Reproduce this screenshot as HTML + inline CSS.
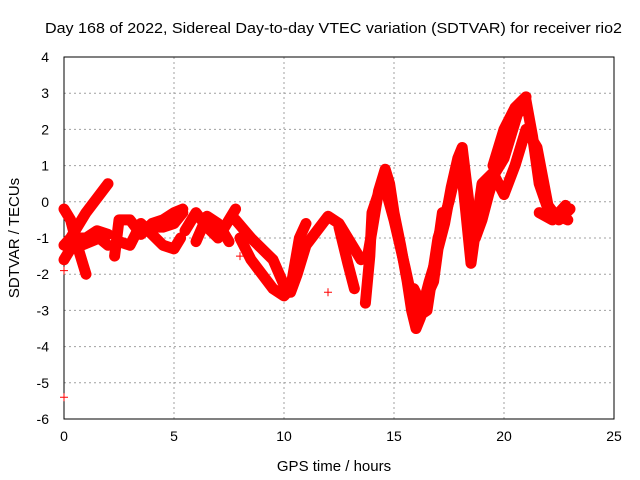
<!DOCTYPE html>
<html><head><meta charset="utf-8"><style>
html,body{margin:0;padding:0;background:#fff;}
svg{display:block;font-family:"Liberation Sans",sans-serif;}
</style></head><body>
<svg id="chart" width="640" height="480"></svg>
<script>
const tracks = [
  [[0,-1.2],[0.3,-1.0],[0.6,-0.7],[1,-0.3],[1.5,0.1],[2,0.5]],
  [[0,-0.2],[0.3,-0.5],[0.6,-1.2],[0.9,-1.8],[1.0,-2.0]],
  [[0,-1.6],[0.3,-1.3],[0.6,-1.0],[1,-1.0],[1.5,-0.8],[2,-0.9]],
  [[0.4,-1.1],[0.8,-1.2],[1.2,-1.1],[1.6,-1.0],[2,-1.2]],
  [[2.3,-1.5],[2.5,-0.5],[3,-0.5],[3.5,-0.9],[4,-0.6],[4.5,-0.5],[5,-0.3],[5.4,-0.2]],
  [[2.5,-1.1],[3,-1.2],[3.5,-0.6],[4,-0.9],[4.5,-1.2],[5,-1.3],[5.3,-1.0]],
  [[4,-0.7],[4.5,-0.7],[5,-0.6],[5.4,-0.3]],
  [[5.5,-0.8],[6,-0.3],[6.5,-0.7],[7,-1.0],[7.5,-0.5],[7.8,-0.2]],
  [[6,-1.1],[6.5,-0.4],[7,-0.6],[7.5,-1.1]],
  [[7.8,-0.5],[8.5,-1.0],[9,-1.3],[9.5,-1.6],[10,-2.3],[10.3,-2.5],[10.6,-2.0],[11,-1.2],[11.5,-0.8],[12,-0.4],[12.5,-0.6],[13,-1.1],[13.5,-1.6],[13.8,-1.5],[14,-0.8],[14.3,0.3],[14.6,0.9],[14.8,0.5],[15,-0.3],[15.3,-1.2],[15.6,-2.2],[15.8,-3.0],[16,-3.5],[16.2,-3.2],[16.5,-2.6],[16.8,-2.2],[17,-1.3],[17.3,-0.6],[17.6,0.4],[17.9,1.2],[18.1,1.5],[18.3,0.5],[18.5,-0.5],[18.7,-1.0],[19,-0.5],[19.3,0.2],[19.6,0.8],[20,1.2],[20.3,1.8],[20.6,2.4],[21,2.8],[21.3,1.8],[21.6,0.5],[22,-0.2],[22.5,-0.4],[22.9,-0.5]],
  [[8,-1.0],[8.5,-1.6],[9,-2.0],[9.5,-2.4],[10,-2.6],[10.3,-2.4],[10.7,-1.0],[11,-0.6]],
  [[12.5,-0.7],[12.9,-1.7],[13.2,-2.4]],
  [[13.7,-2.8],[13.9,-1.5],[14,-0.3],[14.5,0.6],[15,-0.5],[15.5,-1.8],[16,-3.2],[16.5,-3.0],[17,-1.0],[17.5,0.0],[18,1.3],[18.5,-1.7],[19,0.5],[19.5,0.8],[20,0.2],[20.5,1.0],[21,2.0],[21.5,1.5],[22,-0.1],[22.5,-0.5],[23,-0.2]],
  [[15.9,-2.4],[16.3,-2.9],[16.6,-2.2],[16.9,-1.6],[17.2,-0.3]],
  [[19.5,1.0],[20,2.0],[20.5,2.6],[21,2.9]],
  [[21.6,-0.3],[22.2,-0.5],[22.8,-0.1]]
];
const singles = [[0,-5.4],[12,-2.5],[0,-1.9],[8,-1.5]];
const xTicks = [0,5,10,15,20,25];
const yTicks = [4,3,2,1,0,-1,-2,-3,-4,-5,-6];

const NS="http://www.w3.org/2000/svg";
const svg=document.getElementById('chart');
const L=64,R=614,T=57,B=419;
const xs=v=>L+(v-0)/25*(R-L);
const ys=v=>T+(4-v)/10*(B-T);
function mk(t,a,p){const e=document.createElementNS(NS,t);for(const k in a)e.setAttribute(k,a[k]);(p||svg).appendChild(e);return e;}

xTicks.forEach(v=>{
  const g=mk('line',{x1:xs(v),x2:xs(v),y1:T,y2:B,stroke:'#a0a0a0','stroke-dasharray':'2,3'});
  
  
  const t=mk('text',{x:xs(v),y:B+22,'text-anchor':'middle','font-size':14});
  t.textContent=v;
  
  
});
yTicks.forEach(v=>{
  const g=mk('line',{x1:L,x2:R,y1:ys(v),y2:ys(v),stroke:'#a0a0a0','stroke-dasharray':'2,3'});
  
  
  const t=mk('text',{x:L-15,y:ys(v)+5,'text-anchor':'end','font-size':14});
  t.textContent=v;
  
  
});
const fr=mk('rect',{x:L,y:T,width:R-L,height:B-T,fill:'none',stroke:'#000'});



tracks.forEach(tr=>{
  const pl=mk('polyline',{points:tr.map(p=>xs(p[0])+','+ys(p[1])).join(' '),fill:'none',stroke:'#ff0000','stroke-width':11,'stroke-linejoin':'round','stroke-linecap':'round'});
  
  
});
singles.forEach(p=>{
  const x=xs(p[0]),y=ys(p[1]);
  const m=mk('path',{d:`M${x-4},${y}H${x+4}M${x},${y-4}V${y+4}`,stroke:'#ff0000','stroke-width':1});
  
  
});

const tt=mk('text',{x:45,y:33,'font-size':15,textLength:577,lengthAdjust:'spacingAndGlyphs'});
tt.textContent='Day 168 of 2022, Sidereal Day-to-day VTEC variation (SDTVAR) for receiver rio2';


const xl=mk('text',{x:334,y:471,'text-anchor':'middle','font-size':15});
xl.textContent='GPS time / hours';


const yl=mk('text',{x:19,y:238,'text-anchor':'middle','font-size':15,transform:'rotate(-90 19 238)'});
yl.textContent='SDTVAR / TECUs';


</script>
</body></html>
